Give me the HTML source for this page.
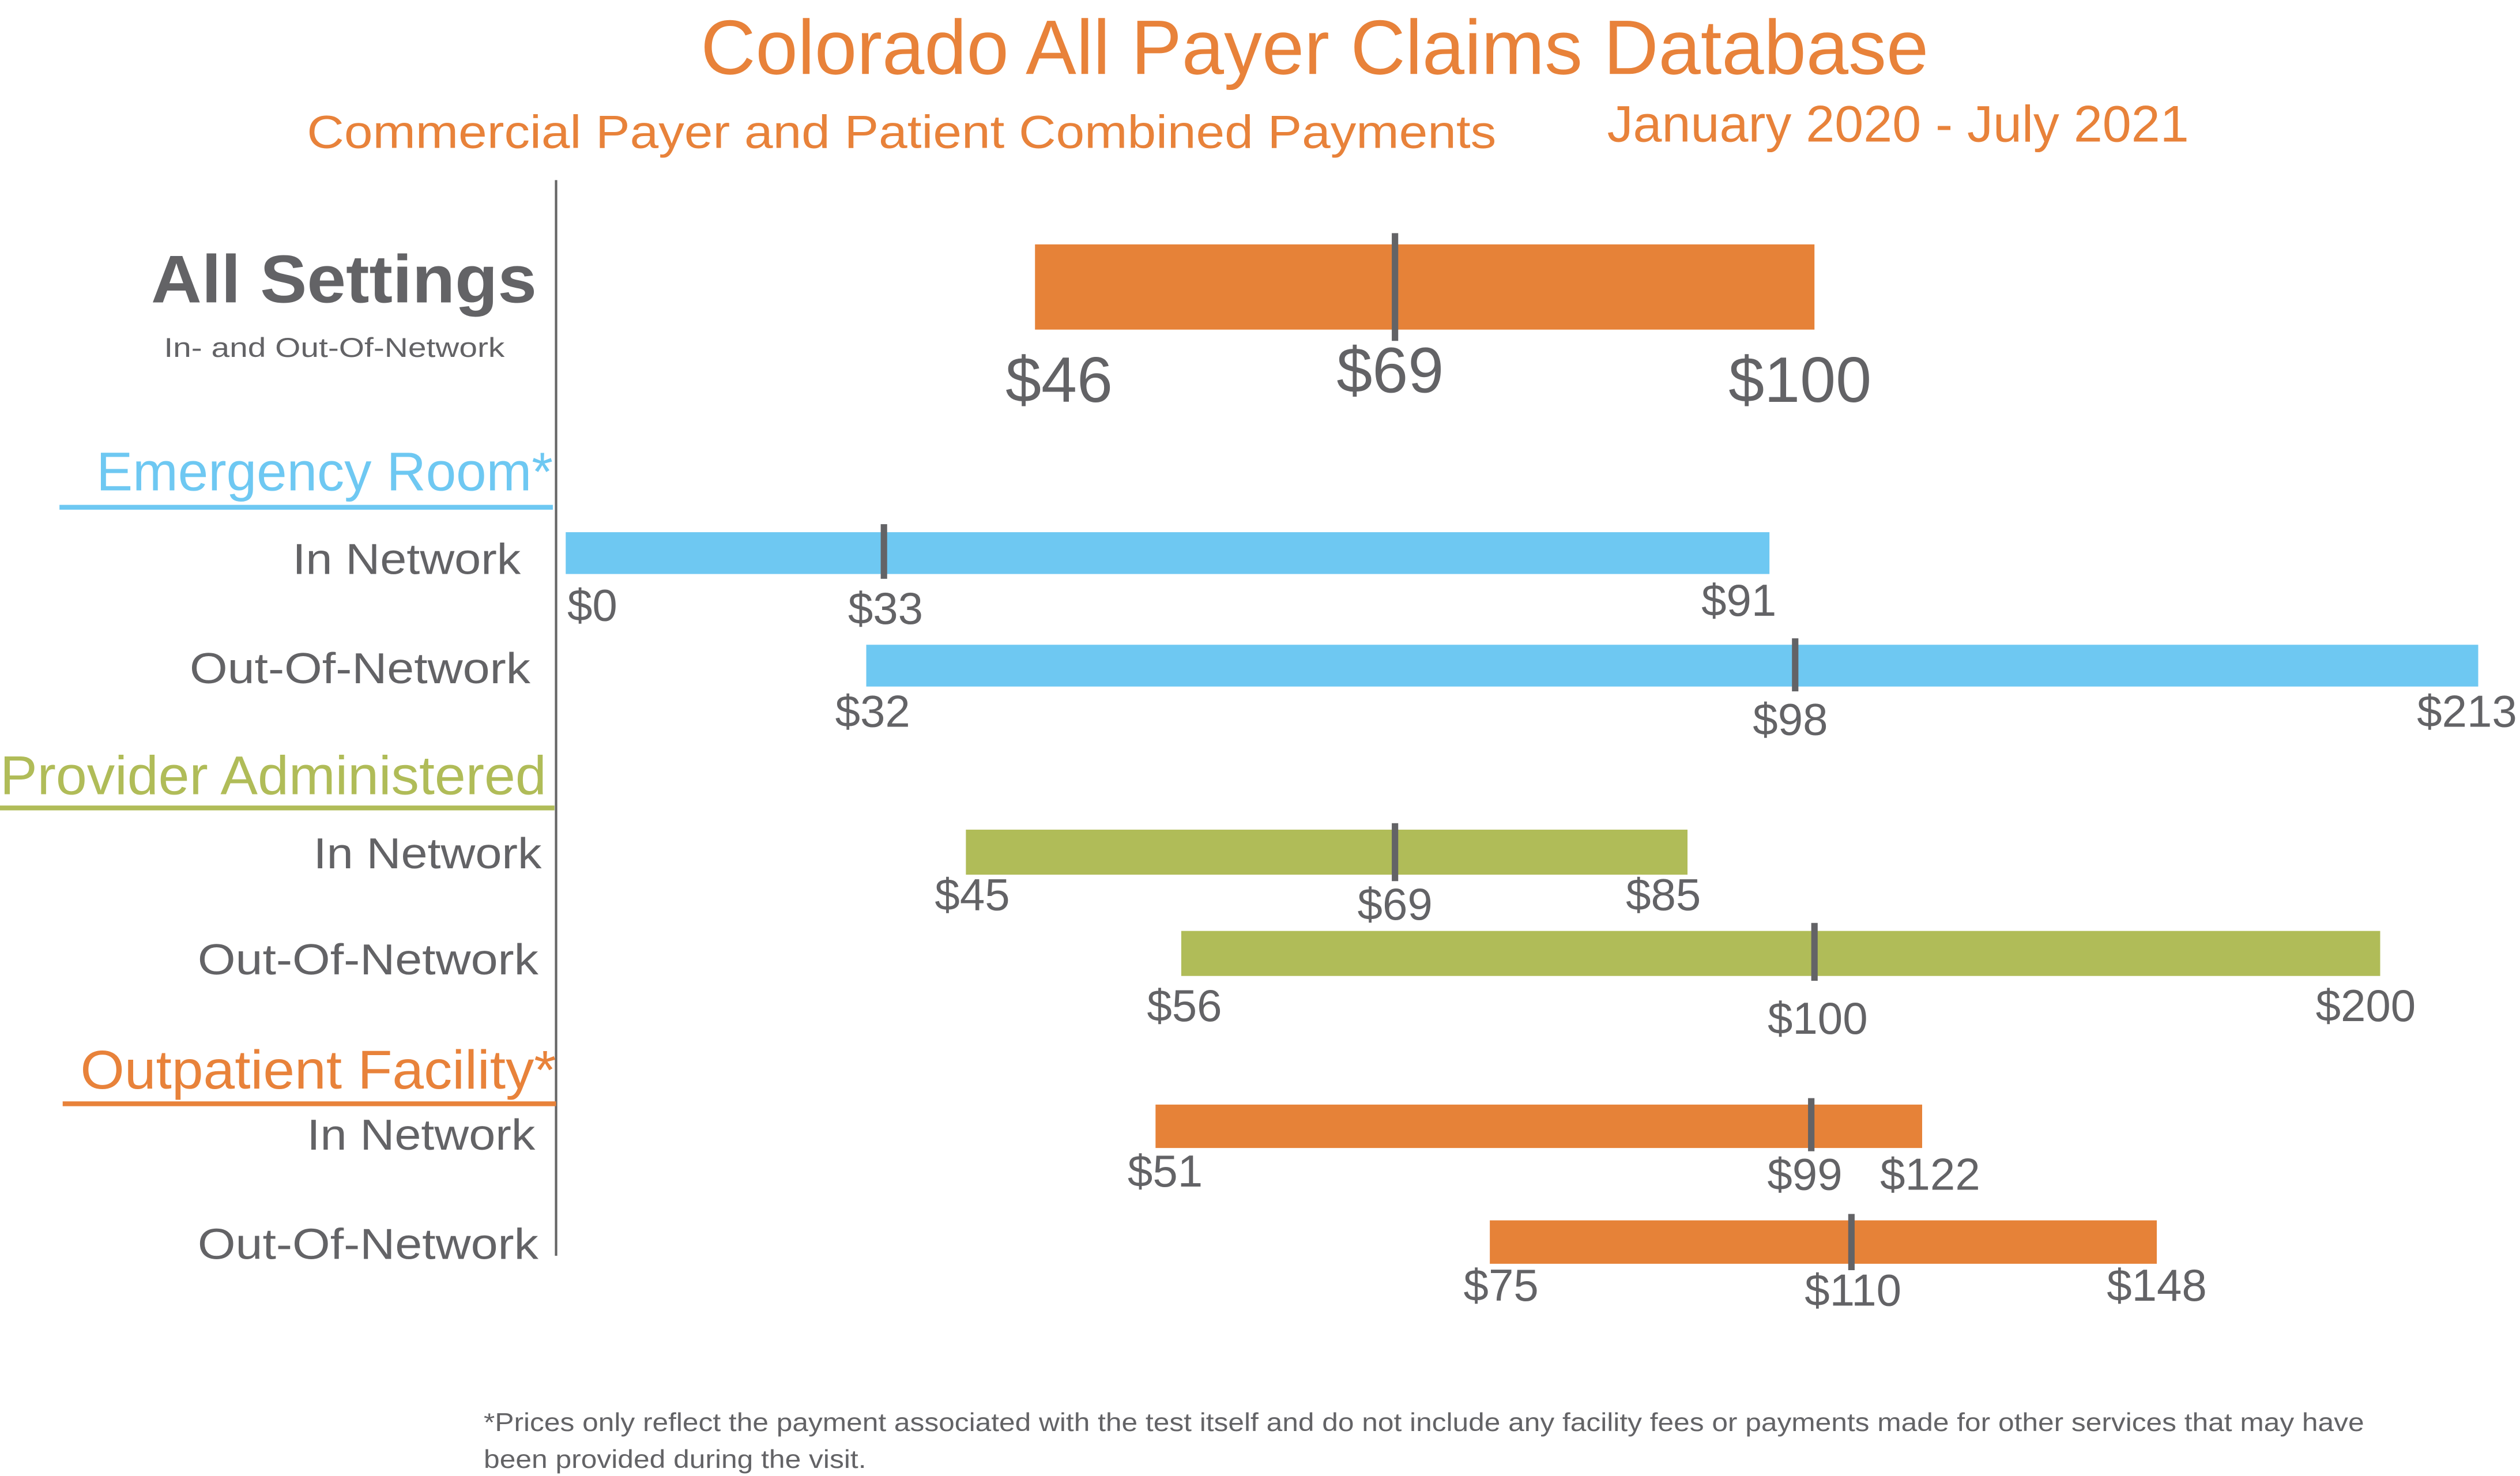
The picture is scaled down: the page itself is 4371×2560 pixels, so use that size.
<!DOCTYPE html>
<html><head><meta charset="utf-8"><style>html,body{margin:0;padding:0;background:#fff}svg{display:block}</style></head>
<body>
<svg width="4371" height="2560" viewBox="0 0 1568 918" preserveAspectRatio="none" xmlns="http://www.w3.org/2000/svg" font-family="Liberation Sans, sans-serif">
<rect width="1568" height="918" fill="#fff"/>
<g fill="#e8823a">
<text x="818" y="46" font-size="48" text-anchor="middle" textLength="764" lengthAdjust="spacingAndGlyphs">Colorado All Payer Claims Database</text>
<text x="191" y="92" font-size="29" textLength="740" lengthAdjust="spacingAndGlyphs">Commercial Payer and Patient Combined Payments</text>
<text x="1000" y="88" font-size="32" textLength="362" lengthAdjust="spacingAndGlyphs">January 2020 - July 2021</text>
</g>
<line x1="346" y1="112" x2="346" y2="781" stroke="#666" stroke-width="1.5"/>
<g fill="#636366">
<text x="334" y="188" font-size="42" font-weight="bold" text-anchor="end" textLength="240" lengthAdjust="spacingAndGlyphs">All Settings</text>
<text x="314" y="222" font-size="17" text-anchor="end" textLength="212" lengthAdjust="spacingAndGlyphs">In- and Out-Of-Network</text>
<text x="324" y="357" font-size="27" text-anchor="end" textLength="142" lengthAdjust="spacingAndGlyphs">In Network</text>
<text x="330" y="425" font-size="27" text-anchor="end" textLength="212" lengthAdjust="spacingAndGlyphs">Out-Of-Network</text>
<text x="337" y="540" font-size="27" text-anchor="end" textLength="142" lengthAdjust="spacingAndGlyphs">In Network</text>
<text x="335" y="606" font-size="27" text-anchor="end" textLength="212" lengthAdjust="spacingAndGlyphs">Out-Of-Network</text>
<text x="333" y="715" font-size="27" text-anchor="end" textLength="142" lengthAdjust="spacingAndGlyphs">In Network</text>
<text x="335" y="783" font-size="27" text-anchor="end" textLength="212" lengthAdjust="spacingAndGlyphs">Out-Of-Network</text>
<text x="301" y="890" font-size="16" textLength="1170" lengthAdjust="spacingAndGlyphs">*Prices only reflect the payment associated with the test itself and do not include any facility fees or payments made for other services that may have</text>
<text x="301" y="913" font-size="16" textLength="238" lengthAdjust="spacingAndGlyphs">been provided during the visit.</text>
</g>
<text x="344" y="305" font-size="34" fill="#6ec8f2" text-anchor="end" textLength="284" lengthAdjust="spacingAndGlyphs">Emergency Room*</text>
<rect x="37" y="314" width="307" height="3" fill="#6ec8f2"/>
<text x="340" y="494" font-size="34" fill="#b0bc58" text-anchor="end" textLength="340" lengthAdjust="spacingAndGlyphs">Provider Administered</text>
<rect x="0" y="501" width="345" height="3" fill="#b0bc58"/>
<text x="346" y="677" font-size="34" fill="#e8823a" text-anchor="end" textLength="296" lengthAdjust="spacingAndGlyphs">Outpatient Facility*</text>
<rect x="39" y="685" width="307" height="3" fill="#e8823a"/>
<!-- bars -->
<rect x="644" y="152" width="485" height="53" fill="#e68238"/>
<rect x="352" y="331" width="749" height="26" fill="#6ec8f2"/>
<rect x="539" y="401" width="1003" height="26" fill="#6ec8f2"/>
<rect x="601" y="516" width="449" height="28" fill="#b0bc58"/>
<rect x="735" y="579" width="746" height="28" fill="#b0bc58"/>
<rect x="719" y="687" width="477" height="27" fill="#e68238"/>
<rect x="927" y="759" width="415" height="27" fill="#e68238"/>
<g stroke="#636366" stroke-width="4">
<line x1="868" y1="145" x2="868" y2="212"/>
<line x1="550" y1="326" x2="550" y2="360"/>
<line x1="1117" y1="397" x2="1117" y2="430"/>
<line x1="868" y1="512" x2="868" y2="548"/>
<line x1="1129" y1="574" x2="1129" y2="610"/>
<line x1="1127" y1="683" x2="1127" y2="716"/>
<line x1="1152" y1="755" x2="1152" y2="790"/>
</g>
<g fill="#636366" text-anchor="middle" font-size="28">
<text x="659" y="250" font-size="40">$46</text>
<text x="865" y="244" font-size="40">$69</text>
<text x="1120" y="250" font-size="40">$100</text>
<text x="353" y="386" text-anchor="start">$0</text>
<text x="551" y="388">$33</text>
<text x="1082" y="383">$91</text>
<text x="543" y="452">$32</text>
<text x="1114" y="457">$98</text>
<text x="1535" y="452">$213</text>
<text x="605" y="566">$45</text>
<text x="868" y="572">$69</text>
<text x="1035" y="566">$85</text>
<text x="737" y="635">$56</text>
<text x="1131" y="643">$100</text>
<text x="1472" y="635">$200</text>
<text x="725" y="738">$51</text>
<text x="1123" y="740">$99</text>
<text x="1201" y="740">$122</text>
<text x="934" y="809">$75</text>
<text x="1153" y="812">$110</text>
<text x="1342" y="809">$148</text>
</g>
</svg>
</body></html>
